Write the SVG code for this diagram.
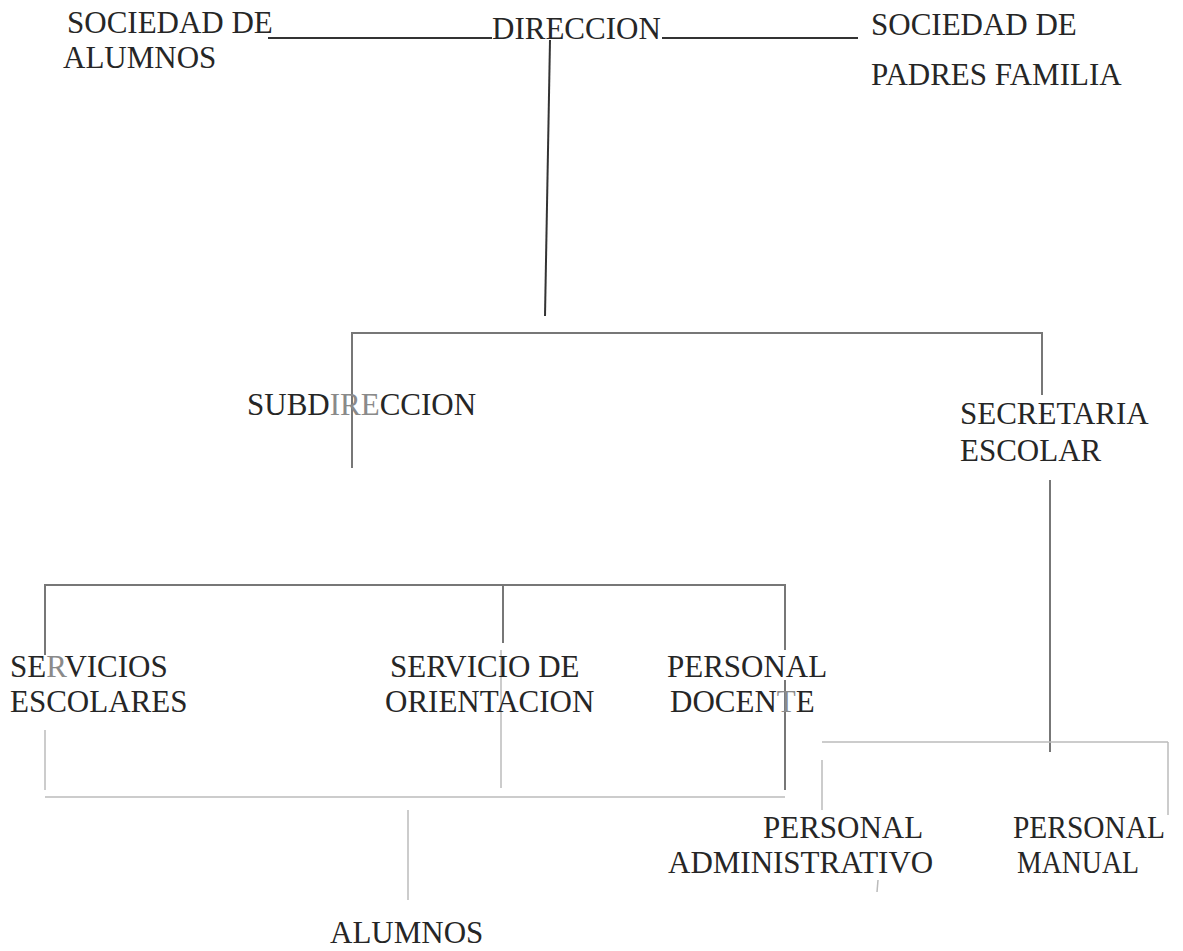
<svg xmlns="http://www.w3.org/2000/svg" width="1183" height="951" viewBox="0 0 1183 951">
<style>
.t{font-family:'Liberation Serif','Times New Roman',serif;font-size:31px;fill:#262626}
.g{fill:#8a8a8a}
.d{stroke:#333;stroke-width:2;fill:none}
.m{stroke:#777;stroke-width:2;fill:none}
.f{stroke:#bbb;stroke-width:1.5;fill:none}
</style>
<rect width="1183" height="951" fill="#fff"/>
<g id="connectors">
<line class="d" x1="268" y1="38" x2="492" y2="38"/>
<line class="d" x1="662" y1="38" x2="858" y2="38"/>
<line class="d" x1="550" y1="40" x2="545" y2="316"/>
<polyline class="m" points="352,468 352,333 1042,333 1042,395"/>
<line class="m" x1="1050" y1="480" x2="1050" y2="752"/>
<polyline class="m" points="45,655 45,585 785,585 785,650"/>
<line class="m" x1="503" y1="585" x2="503" y2="643"/>
<line class="f" x1="45" y1="730" x2="45" y2="790"/>
<line class="f" x1="501" y1="650" x2="501" y2="788"/>
<line class="m" x1="785" y1="680" x2="785" y2="790"/>
<line class="f" x1="45" y1="797" x2="785" y2="797"/>
<line class="f" x1="408" y1="810" x2="408" y2="900"/>
<line class="f" x1="822" y1="742" x2="1168" y2="742"/>
<line class="f" x1="822" y1="760" x2="822" y2="810"/>
<line class="f" x1="1168" y1="742" x2="1168" y2="815"/>
<line class="f" x1="878" y1="880" x2="877" y2="892"/>
</g>
<g class="t">
<g id="soc-alumnos"><text x="67" y="33">SOCIEDAD DE</text><text x="63" y="68">ALUMNOS</text></g>
<g id="direccion"><text x="492" y="39">DIRECCION</text></g>
<g id="soc-padres"><text x="871" y="35">SOCIEDAD DE</text><text x="871" y="85">PADRES FAMILIA</text></g>
<g id="subdireccion"><text x="247" y="415">SUBD<tspan class="g">IRE</tspan>CCION</text></g>
<g id="secretaria"><text x="960" y="424">SECRETARIA</text><text x="960" y="461">ESCOLAR</text></g>
<g id="servicios"><text x="10" y="677">SE<tspan class="g">R</tspan>VICIOS</text><text x="10" y="712">ESCOLARES</text></g>
<g id="orientacion"><text x="390" y="677">SERVICIO DE</text><text x="385" y="712">ORIENTACION</text></g>
<g id="docente"><text x="667" y="677">PERSONAL</text><text x="670" y="712">DOCEN<tspan class="g">T</tspan>E</text></g>
<g id="administrativo"><text x="763" y="838">PERSONAL</text><text x="668" y="873">ADMINISTRATIVO</text></g>
<g id="manual"><text x="1013" y="838" textLength="152" lengthAdjust="spacingAndGlyphs">PERSONAL</text><text x="1017" y="873" textLength="122" lengthAdjust="spacingAndGlyphs">MANUAL</text></g>
<g id="alumnos"><text x="330" y="943">ALUMNOS</text></g>
</g>
</svg>
